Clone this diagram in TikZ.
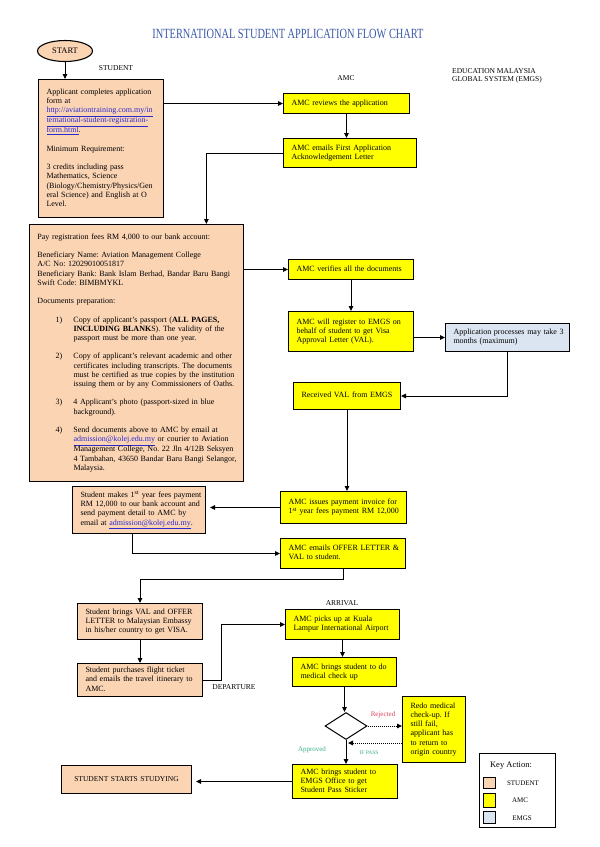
\documentclass[tikz,border=0pt]{standalone}
\usepackage{fontspec}
\setmainfont{Liberation Serif}
\usepackage{graphicx}
\usetikzlibrary{arrows.meta,shapes.geometric,calc}
\definecolor{peach}{HTML}{FBD4B4}
\definecolor{amcyel}{HTML}{FFFF00}
\definecolor{emgsblue}{HTML}{DBE5F1}
\definecolor{titleblue}{HTML}{3C5AA8}
\definecolor{linkblue}{HTML}{2B2BD0}
\definecolor{rejred}{HTML}{E0405A}
\definecolor{okgreen}{HTML}{3DB08C}
\newcommand{\boxlines}[1]{\begin{tabular}{@{}l@{}}#1\end{tabular}}
\newcommand{\lnk}[1]{\textcolor{linkblue}{\underline{#1}}}
\newcommand{\itm}[1]{\hspace*{18pt}\makebox[18pt][l]{#1}}
\newcommand{\itc}{\hspace*{36pt}}
\frenchspacing
\begin{document}
\begin{tikzpicture}[x=1pt,y=-1pt,
  every node/.style={inner sep=0pt},
  bx/.style={draw=black, line width=1pt, anchor=north west, inner xsep=8pt, inner ysep=1pt, align=left, font=\fontsize{8}{9.2}\selectfont},
  wh/.style 2 args={minimum width=#1, minimum height=#2, text width=#1-16pt},
  sbox/.style={bx, fill=peach},
  abox/.style={bx, fill=amcyel},
  ebox/.style={bx, fill=emgsblue},
  arr/.style={line width=1pt, -{Triangle[length=5pt,width=4.5pt]}},
  dots/.style={arr, dash pattern=on 1pt off 1pt},
  lane/.style={font=\fontsize{7.5}{8.5}\selectfont, align=left},
  swatch/.style={draw=black, line width=0.8pt, anchor=north west, minimum width=12pt},
  keytext/.style={font=\fontsize{7}{8}\selectfont}
]
\useasboundingbox (0,0) rectangle (600,847);
\fill[white] (0,0) rectangle (600,847);

% title and lane labels
\node (title) at (288,34) {\fontsize{14}{14}\selectfont\color{titleblue}\scalebox{0.74}[1]{INTERNATIONAL STUDENT APPLICATION FLOW CHART}};
\node[lane] (lstudent) at (116,68) {STUDENT};
\node[lane] (lamc) at (346,78) {AMC};
\node[lane, anchor=west] (lemgs) at (452,76) {EDUCATION MALAYSIA\\GLOBAL SYSTEM (EMGS)};

% start
\node[ellipse, draw=black, fill=peach, line width=1.1pt, minimum width=55pt, minimum height=21pt, font=\fontsize{8.5}{8.5}\selectfont] (start) at (65,51) {START};

% student column
\node[sbox, wh={125pt}{138pt}] (app) at (38,79) {\boxlines{Applicant completes application\\ form at\\ \lnk{http://aviationtraining.com.my/in}\\ \lnk{ternational-student-registration-}\\ \lnk{form.html}.\\ \\ Minimum Requirement:\\ \\ 3 credits including pass\\ Mathematics, Science\\ (Biology/Chemistry/Physics/Gen\\ eral Science) and English at O\\ Level.}};

\node[sbox, wh={214pt}{257pt}] (pay) at (29,224) {\boxlines{Pay registration fees RM 4,000 to our bank account:\\ \\
Beneficiary Name: Aviation Management College\\
A/C No: 12029010051817\\
Beneficiary Bank: Bank Islam Berhad, Bandar Baru Bangi\\
Swift Code: BIMBMYKL\\ \\
Documents preparation:\\ \\
\itm{1)}Copy of applicant's passport (\textbf{ALL PAGES,}\\
\itc\textbf{INCLUDING BLANK}S). The validity of the\\
\itc passport must be more than one year.\\ \\
\itm{2)}Copy of applicant's relevant academic and other\\
\itc certificates including transcripts. The documents\\
\itc must be certified as true copies by the institution\\
\itc issuing them or by any Commissioners of Oaths.\\ \\
\itm{3)}4 Applicant's photo (passport-sized in blue\\
\itc background).\\ \\
\itm{4)}Send documents above to AMC by email at\\
\itc\lnk{admission@kolej.edu.my} or courier to Aviation\\
\itc Management College, No. 22 Jln 4/12B Seksyen\\
\itc 4 Tambahan, 43650 Bandar Baru Bangi Selangor,\\
\itc Malaysia.}};

\node[sbox, wh={133pt}{47pt}] (stmakes) at (72,486) {\boxlines{Student makes 1\textsuperscript{st} year fees payment\\ RM 12,000 to our bank account and\\ send payment detail to AMC by\\ email at \lnk{admission@kolej.edu.my}.}};
\node[sbox, wh={125pt}{36pt}] (brings) at (77,603) {\boxlines{Student brings VAL and OFFER\\ LETTER to Malaysian Embassy\\ in his/her country to get VISA.}};
\node[sbox, wh={125pt}{33pt}] (purchases) at (77,663) {\boxlines{Student purchases flight ticket\\ and emails the travel itinerary to\\ AMC.}};
\node[sbox, wh={130pt}{28pt}, align=center, font=\fontsize{7.5}{9}\selectfont] (starts) at (61,765) {STUDENT STARTS STUDYING};

% AMC column
\node[abox, wh={126pt}{20pt}] (reviews) at (283,93) {\boxlines{AMC reviews the application}};
\node[abox, wh={133pt}{29pt}] (first) at (283,138) {\boxlines{AMC emails First Application\\ Acknowledgement Letter}};
\node[abox, wh={125pt}{20pt}] (verifies) at (288,259) {\boxlines{AMC verifies all the documents}};
\node[abox, wh={125pt}{40pt}] (register) at (288,311) {\boxlines{AMC will register to EMGS on\\ behalf of student to get Visa\\ Approval Letter (VAL).}};
\node[abox, wh={107pt}{27pt}] (received) at (293,382) {\boxlines{Received VAL from EMGS}};
\node[abox, wh={126pt}{32pt}] (invoice) at (280,491) {\boxlines{AMC issues payment invoice for\\ 1\textsuperscript{st} year fees payment RM 12,000}};
\node[abox, wh={125pt}{30pt}] (offer) at (280,538) {\boxlines{AMC emails OFFER LETTER \&\\ VAL to student.}};
\node[abox, wh={114pt}{30pt}] (picks) at (285,609) {\boxlines{AMC picks up at Kuala\\ Lampur International Airport}};
\node[abox, wh={104pt}{29pt}] (medical) at (292,657) {\boxlines{AMC brings student to do\\ medical check up}};
\node[diamond, draw=black, line width=1pt, fill=white, minimum width=42pt, minimum height=27pt] (dia) at (346,726) {};
\node[abox, wh={63pt}{66pt}] (redo) at (402,696) {\boxlines{Redo medical\\ check-up. If\\ still fail,\\ applicant has\\ to return to\\ origin country}};
\node[abox, wh={105pt}{34pt}] (office) at (292,764) {\boxlines{AMC brings student to\\ EMGS Office to get\\ Student Pass Sticker}};

% EMGS column
\node[ebox, wh={124pt}{28pt}] (emgs) at (445,323) {\boxlines{Application processes may take 3\\ months (maximum)}};

% labels
\node[lane] (arrival) at (342,603) {ARRIVAL};
\node[lane] (departure) at (234,687) {DEPARTURE};
\node[font=\fontsize{7}{8}\selectfont, text=rejred] (rej) at (383,715) {Rejected};
\node[font=\fontsize{5.5}{6}\selectfont, text=okgreen] (ifpass) at (369,753) {IF PASS};
\node[font=\fontsize{7}{8}\selectfont, text=okgreen] (appr) at (312,750) {Approved};

% connectors
\draw[arr] (start) -- (start |- app.north);
\draw[arr] (app.east |- reviews.west) -- (reviews.west);
\draw[arr] (reviews.south) -- (reviews.south |- first.north);
\draw[arr] (first.west) -| ($(pay.north west)!0.825!(pay.north east)$);
\draw[arr] (pay.east |- verifies.west) -- (verifies.west);
\draw[arr] (verifies.south) -- (verifies.south |- register.north);
\draw[arr] (register.east |- emgs.west) -- (emgs.west);
\draw[arr] (emgs.south) |- (received.east);
\draw[arr] (received.south) -- (received.south |- invoice.north);
\draw[arr] (invoice.west) -- ($(invoice.west -| stmakes.east)+(4,0)$);
\draw[arr] ($(stmakes.south west)!0.45!(stmakes.south east)$) |- (offer.west);
\draw[arr] (offer.south) -- ++(0,10) -| (brings.north);
\draw[arr] (brings.south) -- (brings.south |- purchases.north);
\draw[arr] (purchases.east) -- ++(18,0) |- (picks.west);
\draw[arr] (picks.south) -- (picks.south |- medical.north);
\draw[arr] (medical.south) -- (medical.south |- dia.north);
\draw[dots] (dia.east) -- (dia.east -| redo.west);
\coordinate (pass) at ($(dia.south)+(2,3)$);
\draw[dots] (redo.west |- pass) -- (pass);
\draw[arr] (dia.south) -- (dia.south |- office.north);
\draw[arr] (office.west) -- ($(office.west -| starts.east)+(4,0)$);

% legend
\node[draw=black, line width=1pt, anchor=north west, minimum width=76pt, minimum height=74pt] (key) at (479,753) {};
\node[font=\fontsize{8.5}{9}\selectfont] (keyt) at (511,766) {Key Action:};
\node[swatch, fill=peach, minimum height=11pt] (k1) at (483,777) {};
\node[keytext] (k1t) at (523,783) {STUDENT};
\node[swatch, fill=amcyel, minimum height=14pt] (k2) at (483,793) {};
\node[keytext] (k2t) at (520,800) {AMC};
\node[swatch, fill=emgsblue, minimum height=12pt] (k3) at (483,811) {};
\node[keytext] (k3t) at (522,818) {EMGS};
\end{tikzpicture}
\end{document}
